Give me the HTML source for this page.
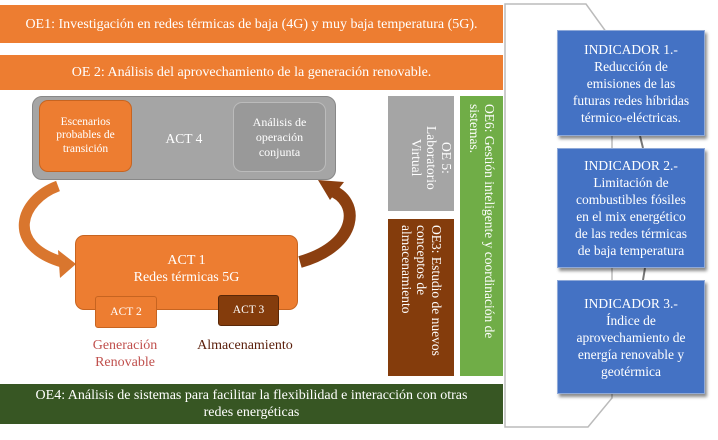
<!DOCTYPE html>
<html><head><meta charset="utf-8"><style>
*{font-family:"Liberation Serif","DejaVu Serif",serif;}
body{margin:0;width:718px;height:440px;background:#fff;position:relative;overflow:hidden;}
.a{position:absolute;box-sizing:border-box;color:#fff;}
.bar{display:flex;align-items:center;justify-content:center;font-size:14px;text-align:center;line-height:17px;}
.v{writing-mode:vertical-rl;font-size:13.5px;line-height:15px;}
.ind{background:#4472C4;border:1px solid #8fa9d8;box-shadow:2px 3px 3px rgba(0,0,0,.45);display:flex;align-items:center;justify-content:center;text-align:center;font-size:13.5px;line-height:17px;}
</style></head><body>
<svg class="a" style="left:0;top:0" width="718" height="440">
<polygon points="505,4 586,4 612,40 612,398 588,427 505,427" fill="#fff" stroke="#bbb" stroke-width="1.5"/>
<line x1="640" y1="136" x2="643" y2="148" stroke="#777" stroke-width="2"/>
<line x1="645" y1="268" x2="643" y2="280" stroke="#777" stroke-width="2"/>
<path d="M58,186 C20,200 5,245 62,262" fill="none" stroke="#D9762E" stroke-width="11"/>
<polygon points="58,250 76,264 60,278" fill="#D9762E"/>
<path d="M300,262 C360,245 360,200 330,190" fill="none" stroke="#8B3F10" stroke-width="12"/>
<polygon points="318,180 344,182 330,200" fill="#8B3F10"/>
</svg>
<div class="a bar" style="left:0;top:5px;width:503px;height:38px;background:#ED7D31">OE1: Investigación en redes térmicas de baja (4G) y muy baja temperatura (5G).</div>
<div class="a bar" style="left:0;top:55px;width:503px;height:35px;background:#ED7D31">OE 2: Análisis del aprovechamiento de la generación renovable.</div>
<div class="a bar" style="left:32px;top:96px;width:304px;height:84px;background:#A5A5A5;border:1px solid #888;border-radius:10px;font-size:13.5px">ACT 4</div>
<div class="a bar" style="left:39px;top:100px;width:93px;height:72px;background:#ED7D31;border:1px solid #c76420;border-radius:9px;font-size:11.5px;line-height:13.5px">Escenarios probables de transición</div>
<div class="a bar" style="left:233px;top:102px;width:93px;height:70px;background:#999;border:1px solid #bbb;border-radius:9px;font-size:12px;line-height:15px">Análisis de operación conjunta</div>
<div class="a bar" style="left:75px;top:235px;width:223px;height:75px;background:#ED7D31;border:1px solid #c76420;border-radius:9px;font-size:14px;line-height:17px;padding-bottom:8px">ACT 1<br>Redes térmicas 5G</div>
<div class="a bar" style="left:95px;top:296px;width:62px;height:32px;background:#ED7D31;border:1px solid #c76420;border-radius:3px;font-size:11.5px">ACT 2</div>
<div class="a bar" style="left:218px;top:295px;width:61px;height:31px;background:#843C0C;border:1px solid #5a2808;border-radius:3px;font-size:11.5px">ACT 3</div>
<div class="a" style="left:75px;top:337px;width:100px;text-align:center;color:#C0504D;font-size:14px;line-height:17px">Generación Renovable</div>
<div class="a" style="left:185px;top:337px;width:120px;text-align:center;color:#5a1e0a;font-size:14px;line-height:17px">Almacenamiento</div>
<div class="a v" style="left:388px;top:96px;width:66px;height:115px;background:#A5A5A5;display:flex;justify-content:center;text-align:center;padding-top:8px">OE 5:<br>Laboratorio<br>Virtual</div>
<div class="a v" style="left:388px;top:219px;width:66px;height:157px;background:#843C0C;padding-top:6px;padding-right:10px;overflow:hidden">OE3: Estudio de nuevos conceptos de almacenamiento</div>
<div class="a v" style="left:460px;top:96px;width:43px;height:280px;background:#70AD47;padding-top:8px;padding-right:6px">OE6: Gestión inteligente y coordinación de sistemas.</div>
<div class="a bar" style="left:0;top:384px;width:503px;height:40px;background:#375623;padding:0 20px">OE4: Análisis de sistemas para facilitar la flexibilidad e interacción con otras redes energéticas</div>
<div class="a ind" style="left:557px;top:30px;width:148px;height:106px">INDICADOR 1.-<br>Reducción de<br>emisiones de las<br>futuras redes híbridas<br>térmico-eléctricas.</div>
<div class="a ind" style="left:557px;top:148px;width:148px;height:120px">INDICADOR 2.-<br>Limitación de<br>combustibles fósiles<br>en el mix energético<br>de las redes térmicas<br>de baja temperatura</div>
<div class="a ind" style="left:557px;top:280px;width:148px;height:114px">INDICADOR 3.-<br>Índice de<br>aprovechamiento de<br>energía renovable y<br>geotérmica</div>
</body></html>
